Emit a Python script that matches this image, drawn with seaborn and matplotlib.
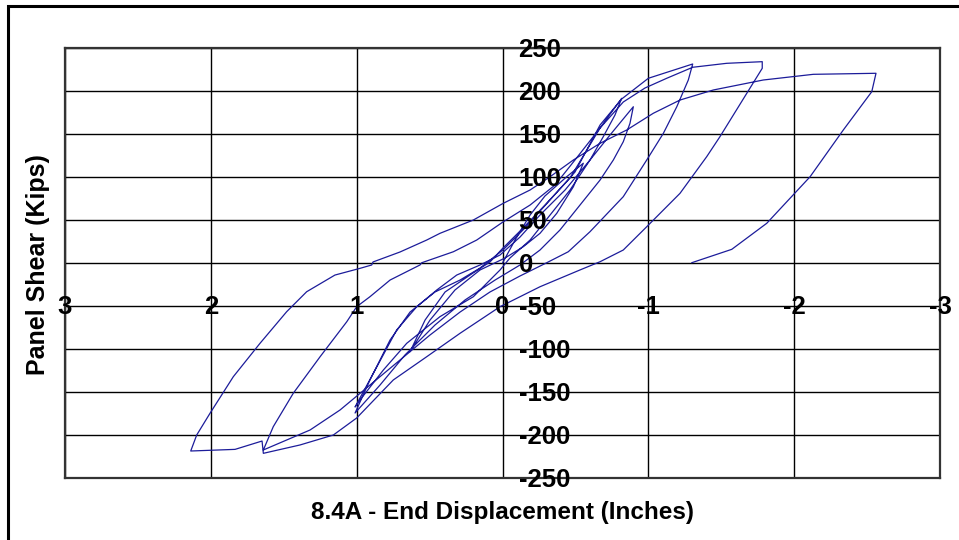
import numpy as np
import pandas as pd
import seaborn as sns
import matplotlib.pyplot as plt
from matplotlib.patches import Rectangle

# hysteresis trace, in plotting order (displacement in inches, shear in kips)
disp = [0.0, -0.086, -0.189, -0.291, -0.44, -0.554,
        -0.486, -0.372, -0.257, -0.143, -0.017, 0.154, 0.326, 0.497, 0.634,
        0.531, 0.394, 0.223, 0.086, -0.003, -0.141, -0.291, -0.463, -0.669, -0.817,
        -0.771, -0.691, -0.6, -0.463, -0.326, -0.189, -0.051, 0.017, 0.2, 0.429, 0.657, 0.817, 0.977, 1.011,
        0.886, 0.726, 0.588, 0.451, 0.314, 0.154, 0.017, -0.12, -0.257, -0.429, -0.6, -0.737, -0.897,
        -0.874, -0.828, -0.76, -0.669, -0.531, -0.394, -0.257, -0.12, 0.051, 0.257, 0.463, 0.669, 0.84, 1.011,
        0.909, 0.771, 0.634, 0.463, 0.291, 0.154, -0.003, -0.154, -0.326, -0.497, -0.669, -0.817, -1.0, -1.304,
        -1.274, -1.195, -1.103, -0.989, -0.828, -0.6, -0.451, -0.303, -0.12, 0.086, 0.291, 0.497, 0.703, 0.909, 1.114, 1.32, 1.64,
        1.572, 1.435, 1.251, 1.068, 1.0, 0.909, 0.771, 0.566, 0.554, 0.337, 0.177, -0.003, -0.189, -0.36, -0.497, -0.669, -0.828, -0.977, -1.126, -1.304, -1.537, -1.781,
        -1.781, -1.675, -1.491, -1.4, -1.217, -0.989, -0.828, -0.669, -0.531, -0.257, 0.017, 0.291, 0.52, 0.749, 1.0, 1.16, 1.389, 1.64,
        1.649, 1.834, 2.138,
        2.097, 2.006, 1.846, 1.663, 1.48, 1.343, 1.149, 0.977, 0.897, 0.888, 0.703, 0.52, 0.429, 0.2, -0.005, -0.189, -0.326, -0.486, -0.669, -0.852, -1.034, -1.217, -1.446, -1.788, -2.131, -2.561,
        -2.532, -2.337, -2.109, -1.812, -1.572, -1.297]
shear = [0.0, 26.7, 55.8, 77.9, 100.3, 116.0,
         88.7, 57.8, 34.5, 19.0, 5.8, -8.1, -31.4, -66.3, -103.1,
         -66.3, -33.7, -14.0, 1.2, 17.4, 40.7, 67.4, 98.8, 157.0, 191.5,
         172.0, 146.9, 119.8, 84.9, 55.8, 26.7, 5.8, -8.1, -39.2, -62.4, -93.4, -124.4, -159.3, -167.4,
         -128.3, -77.9, -50.8, -31.4, -14.0, -2.3, 9.3, 30.2, 55.8, 84.9, 119.8, 148.8, 181.7,
         162.4, 141.0, 119.8, 96.5, 67.4, 38.4, 15.1, -2.3, -19.8, -43.0, -72.1, -107.0, -141.9, -174.4,
         -136.0, -89.5, -57.0, -33.7, -19.8, -5.8, 15.1, 40.7, 73.3, 105.8, 160.5, 190.7, 214.8, 231.4,
         212.8, 181.7, 150.8, 119.8, 77.1, 36.4, 13.1, 0.3, -15.1, -33.7, -57.0, -83.7, -112.8, -141.9, -170.9, -194.2, -217.4,
         -190.3, -151.5, -109.0, -68.3, -50.8, -39.2, -19.8, -2.3, 0.3, 13.1, 26.7, 47.7, 67.4, 90.7, 119.8, 157.0, 187.2, 203.5, 214.8, 227.6, 232.2, 234.1,
         226.4, 197.3, 146.9, 123.6, 81.0, 42.2, 15.1, 1.5, -8.1, -27.6, -50.8, -81.7, -109.0, -136.0, -180.2, -200.0, -211.6, -221.3,
         -207.0, -216.7, -218.6,
         -200.0, -174.8, -132.2, -93.4, -56.6, -33.4, -14.0, -6.2, -2.3, 1.2, 12.8, 26.7, 34.5, 50.0, 69.4, 84.9, 100.3, 119.8, 139.2, 154.7, 174.1, 189.5, 201.2, 212.8, 219.4, 220.6,
         199.2, 154.7, 100.3, 46.2, 15.9, 0.3]

x_ticks = [3, 2, 1, 0, -1, -2, -3]
y_ticks = [250, 200, 150, 100, 50, 0, -50, -100, -150, -200, -250]

df = pd.DataFrame({"disp": disp, "shear": shear})

sns.set_style("white")
plt.rcParams['font.family'] = ['Liberation Sans', 'DejaVu Sans']
plt.rcParams['text.color'] = 'black'

fig = plt.figure(figsize=(9.59, 5.4), dpi=100)
ax = fig.add_axes([0.0678, 0.1148, 0.9124, 0.7963])

sns.lineplot(data=df, x="disp", y="shear", sort=False, estimator=None,
             color="#1c1c9a", linewidth=0.9, ax=ax)

ax.set_xlim(3, -3)
ax.set_ylim(-250, 250)
ax.set_xticks(x_ticks)
ax.set_yticks(y_ticks)
ax.grid(True, color="black", linewidth=1.0)
ax.set_axisbelow(True)
ax.tick_params(length=0, labelbottom=False, labelleft=False)
for s in ax.spines.values():
    s.set_color("#333333")
    s.set_linewidth(1.6)

# tick labels sit on the crossing axes, like the original
for v in x_ticks:
    ax.text(v, -51, str(v), ha="center", va="center", fontsize=18.5,
            fontweight="bold", color="black")
for v in y_ticks:
    ax.text(-0.11, v - 2, str(v), ha="left", va="center", fontsize=18.5,
            fontweight="bold", color="black")

ax.set_xlabel("")
ax.set_ylabel("")
fig.text(0.524, 0.05, "8.4A - End Displacement (Inches)", ha="center", va="center",
         fontsize=17.5, fontweight="bold", color="black")
fig.text(0.04, 0.51, "Panel Shear (Kips)", ha="center", va="center", rotation=90,
         fontsize=18, fontweight="bold", color="black")

# outer chart border (runs off the right/bottom edge in the original)
fig.patches.append(Rectangle((8 / 959, -0.2), 1.5, 1.2 - 6 / 540, transform=fig.transFigure,
                             fill=False, edgecolor="black", linewidth=2.2))

fig.savefig("out.png", dpi=100)
